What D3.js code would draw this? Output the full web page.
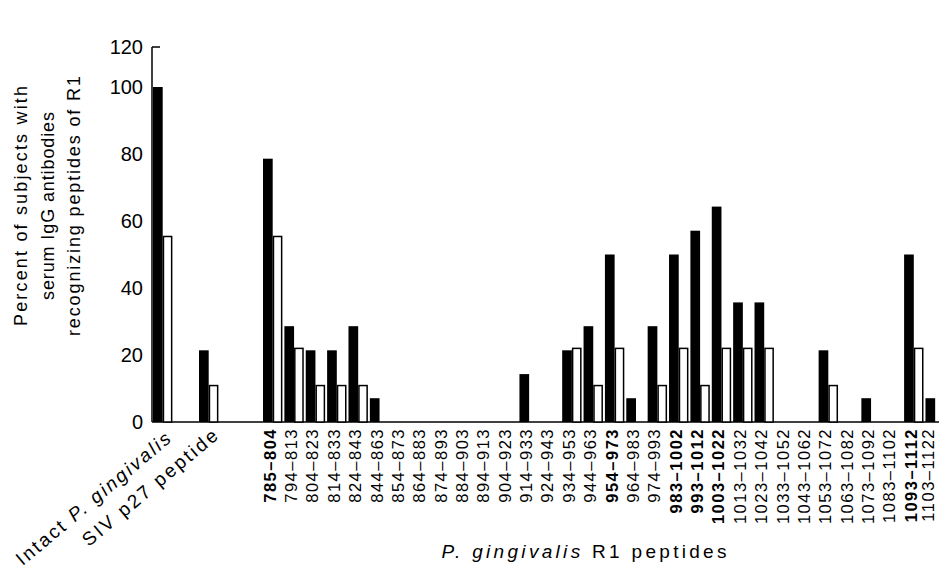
<!DOCTYPE html>
<html>
<head>
<meta charset="utf-8">
<script src="https://cdn.jsdelivr.net/npm/d3@7"></script>
<style>
  body { margin: 0; background: #fff; }
  text { font-family: "Liberation Sans", Arial, sans-serif; fill: #000; }
</style>
</head>
<body>
<div id="chart-area"></div>
<script>
// Data (black = patients, white = controls)
var controls = ['Intact', 'SIV'];
var controlBlack = [100, 21.4];
var controlWhite = [55.6, 11.1];

var peptides = ['785–804', '794–813', '804–823', '814–833', '824–843', '844–863', '854–873',
  '864–883', '874–893', '884–903', '894–913', '904–923', '914–933', '924–943', '934–953',
  '944–963', '954–973', '964–983', '974–993', '983–1002', '993–1012', '1003–1022',
  '1013–1032', '1023–1042', '1033–1052', '1043–1062', '1053–1072', '1063–1082',
  '1073–1092', '1083–1102', '1093–1112', '1103–1122'];
var blackVals = [78.6, 28.6, 21.4, 21.4, 28.6, 7.1, 0, 0, 0, 0, 0, 0, 14.3, 0, 21.4, 28.6,
  50, 7.1, 28.6, 50, 57.1, 64.3, 35.7, 35.7, 0, 0, 21.4, 0, 7.1, 0, 50, 7.1];
var whiteVals = [55.6, 22.2, 11.1, 11.1, 11.1, 0, 0, 0, 0, 0, 0, 0, 0, 0, 22.2, 11.1,
  22.2, 0, 11.1, 22.2, 11.1, 22.2, 22.2, 22.2, 0, 0, 11.1, 0, 0, 0, 22.2, 0];

var yTicks = [0, 20, 40, 60, 80, 100, 120];

var width = 939, height = 568;
var barW = 9.7;

var svg = d3.select('#chart-area')
  .append('svg')
    .attr('width', width)
    .attr('height', height);

// Scales (the top of the printed axis is compressed: 100->120 is shorter)
var y = d3.scaleLinear()
  .domain([0, 100, 120])
  .range([422, 87, 47]);

var xCtrl = d3.scaleBand()
  .domain(controls)
  .range([153, 245]);

var xPep = d3.scaleBand()
  .domain(peptides)
  .range([263, 263 + 32 * 21.37]);

var axisX = 152;

// Y axis
var yAxisCall = d3.axisLeft(y)
  .tickValues(yTicks)
  .tickSize(0)
  .tickPadding(9);
var yAxis = svg.append('g')
  .attr('transform', 'translate(' + axisX + ',0)')
  .call(yAxisCall);
yAxis.select('.domain').remove();
yAxis.selectAll('text')
  .attr('font-size', '20px')
  .style('font-family', '"Liberation Sans", Arial, sans-serif');

svg.append('line')
  .attr('x1', axisX).attr('x2', axisX)
  .attr('y1', y(0)).attr('y2', y(120))
  .attr('stroke', '#000').attr('stroke-width', 1.5);
svg.append('line')
  .attr('x1', axisX).attr('x2', axisX + 8)
  .attr('y1', y(120)).attr('y2', y(120))
  .attr('stroke', '#000').attr('stroke-width', 1.5);
// baseline
svg.append('line')
  .attr('x1', axisX).attr('x2', width)
  .attr('y1', y(0)).attr('y2', y(0))
  .attr('stroke', '#000').attr('stroke-width', 1.5);

// Bars
var ctrlData = controls.map(function(c, i) {
  return {key: c, black: controlBlack[i], white: controlWhite[i]};
});
var pepData = peptides.map(function(p, i) {
  return {key: p, black: blackVals[i], white: whiteVals[i]};
});

function drawBars(data, scale) {
  var g = svg.append('g');
  g.selectAll('rect.black').data(data.filter(function(d) { return d.black > 0; }))
    .enter().append('rect')
      .attr('class', 'black')
      .attr('x', function(d) { return scale(d.key); })
      .attr('y', function(d) { return y(d.black); })
      .attr('width', barW)
      .attr('height', function(d) { return y(0) - y(d.black); })
      .attr('fill', '#000');
  g.selectAll('rect.white').data(data.filter(function(d) { return d.white > 0; }))
    .enter().append('rect')
      .attr('class', 'white')
      .attr('x', function(d) { return scale(d.key) + barW + 0.75; })
      .attr('y', function(d) { return y(d.white) + 0.75; })
      .attr('width', barW - 1.5)
      .attr('height', function(d) { return y(0) - y(d.white) - 0.75; })
      .attr('fill', '#fff')
      .attr('stroke', '#000')
      .attr('stroke-width', 1.5);
}
drawBars(ctrlData, xCtrl);
drawBars(pepData, xPep);

// Peptide labels (bold where the patient bar reaches 50%); keep the last one on the page
svg.append('g').selectAll('text').data(pepData)
  .enter().append('text')
    .attr('transform', function(d) {
      var lx = Math.min(xPep(d.key) + barW - 2.5, width - 10);
      return 'translate(' + lx + ',428) rotate(-90)';
    })
    .attr('dy', '0.33em')
    .attr('text-anchor', 'end')
    .attr('font-size', '16.5px')
    .attr('letter-spacing', '1.5px')
    .attr('font-weight', function(d) { return d.black >= 50 ? 'bold' : 'normal'; })
    .text(function(d) { return d.key; });

// Control labels (diagonal)
var intact = svg.append('text')
  .attr('transform', 'translate(' + (xCtrl('Intact') + 19) + ',441) rotate(-40)')
  .attr('text-anchor', 'end')
  .attr('font-size', '19px')
  .attr('textLength', 195)
  .attr('lengthAdjust', 'spacing');
intact.append('tspan').text('Intact ');
intact.append('tspan').attr('font-style', 'italic').text('P. gingivalis');

svg.append('text')
  .attr('transform', 'translate(' + (xCtrl('SIV') + 20) + ',438) rotate(-40)')
  .attr('text-anchor', 'end')
  .attr('font-size', '19px')
  .attr('textLength', 170)
  .attr('lengthAdjust', 'spacing')
  .text('SIV p27 peptide');

// X title
var xTitle = svg.append('text')
  .attr('x', 584)
  .attr('y', 558)
  .attr('text-anchor', 'middle')
  .attr('font-size', '19px')
  .attr('textLength', 285)
  .attr('lengthAdjust', 'spacing');
xTitle.append('tspan').attr('font-style', 'italic').text('P. gingivalis');
xTitle.append('tspan').text(' R1 peptides');

// Y title, three lines
var yLines = ['Percent of subjects with', 'serum IgG antibodies', 'recognizing peptides of R1'];
var yLens = [240, 188, 260];
yLines.forEach(function(line, i) {
  svg.append('text')
    .attr('transform', 'translate(' + (27 + i * 26.7) + ',206) rotate(-90)')
    .attr('text-anchor', 'middle')
    .attr('font-size', '18px')
    .attr('textLength', yLens[i])
    .attr('lengthAdjust', 'spacing')
    .text(line);
});
</script>
</body>
</html>
